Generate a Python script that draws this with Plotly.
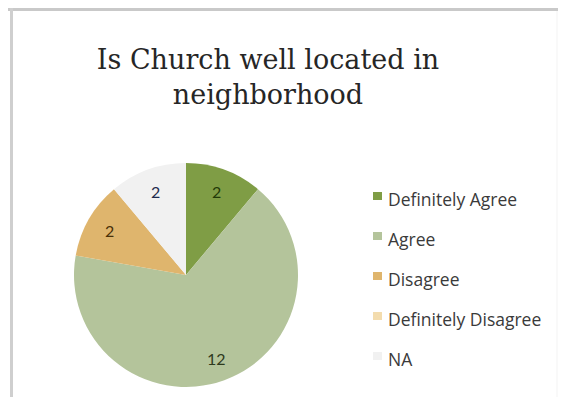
import math
import plotly.graph_objects as go

categories = ["Definitely Agree", "Agree", "Disagree", "Definitely Disagree", "NA"]
values = [2, 12, 2, 0, 2]
colors = ["#7f9d45", "#b4c49b", "#dfb56d", "#f3dcae", "#f1f1f1"]
text_colors = ["#233a08", "#2e3a1d", "#4a3008", "#4a3008", "#1f2b4d"]
title_text = "Is Church well located in<br>neighborhood"

# page shows figure offset by 8px (body margin); figure sized to fit window
OFF = 8
W, H = 566 - OFF, 397 - OFF


def fx(x):
    return (x - OFF) / W


def fy(y):
    return 1 - (y - OFF) / H


CX, CY, R = 186, 275, 112          # pie centre / radius in screen pixels
LEG_X, LEG_Y0, LEG_GAP = 386, 199, 40

fig = go.Figure()
fig.add_trace(go.Pie(
    labels=categories,
    values=values,
    sort=False,
    direction="clockwise",
    rotation=0,
    marker=dict(colors=colors, line=dict(width=0)),
    textinfo="none",
    domain=dict(x=[fx(CX - R), fx(CX + R)], y=[fy(CY + R), fy(CY - R)]),
    showlegend=False,
))

# value labels placed along each slice's mid-angle
annotations = []
total = sum(values)
acc = 0
for v, tc in zip(values, text_colors):
    if v > 0:
        mid = (acc + v / 2) / total * 2 * math.pi
        px = CX + 0.79 * R * math.sin(mid)
        py = CY - 0.79 * R * math.cos(mid)
        annotations.append(dict(x=fx(px), y=fy(py), xref="paper", yref="paper",
                                xanchor="center", yanchor="middle",
                                text=str(v), showarrow=False,
                                font=dict(family="Lato", size=16, color=tc)))
    acc += v

# legend: swatch + label per category
shapes = []
for i, (c, col) in enumerate(zip(categories, colors)):
    yc = LEG_Y0 + i * LEG_GAP
    shapes.append(dict(type="rect", xref="paper", yref="paper",
                       x0=fx(LEG_X - 13), x1=fx(LEG_X - 4),
                       y0=fy(yc - 7), y1=fy(yc + 1),
                       fillcolor=col, line=dict(width=0)))
    annotations.append(dict(x=fx(LEG_X), y=fy(yc), xref="paper", yref="paper",
                            xanchor="left", yanchor="middle", text=c, showarrow=False,
                            font=dict(family="Open Sans", size=17.5, color="#3a3a3a")))

shapes += [
    dict(type="rect", xref="paper", yref="paper", x0=fx(-10), x1=fx(576), y0=fy(11), y1=fy(8),
         fillcolor="#c9c9c9", line=dict(width=0)),
    dict(type="rect", xref="paper", yref="paper", x0=fx(10), x1=fx(13), y0=fy(400), y1=fy(8),
         fillcolor="#cfcfcf", line=dict(width=0)),
    dict(type="line", xref="paper", yref="paper", x0=fx(557), x1=fx(557), y0=fy(400), y1=fy(11),
         line=dict(width=1, color="#f3f3f3")),
]

fig.update_layout(
    width=W, height=H,
    margin=dict(l=0, r=0, t=0, b=0),
    paper_bgcolor="white",
    plot_bgcolor="white",
    showlegend=False,
    title=dict(text=title_text, x=fx(268), xanchor="center", y=fy(69), yanchor="top",
               font=dict(family="DejaVu Serif", size=27, color="#262626")),
    annotations=annotations,
    shapes=shapes,
)

fig.write_html("out.html")
